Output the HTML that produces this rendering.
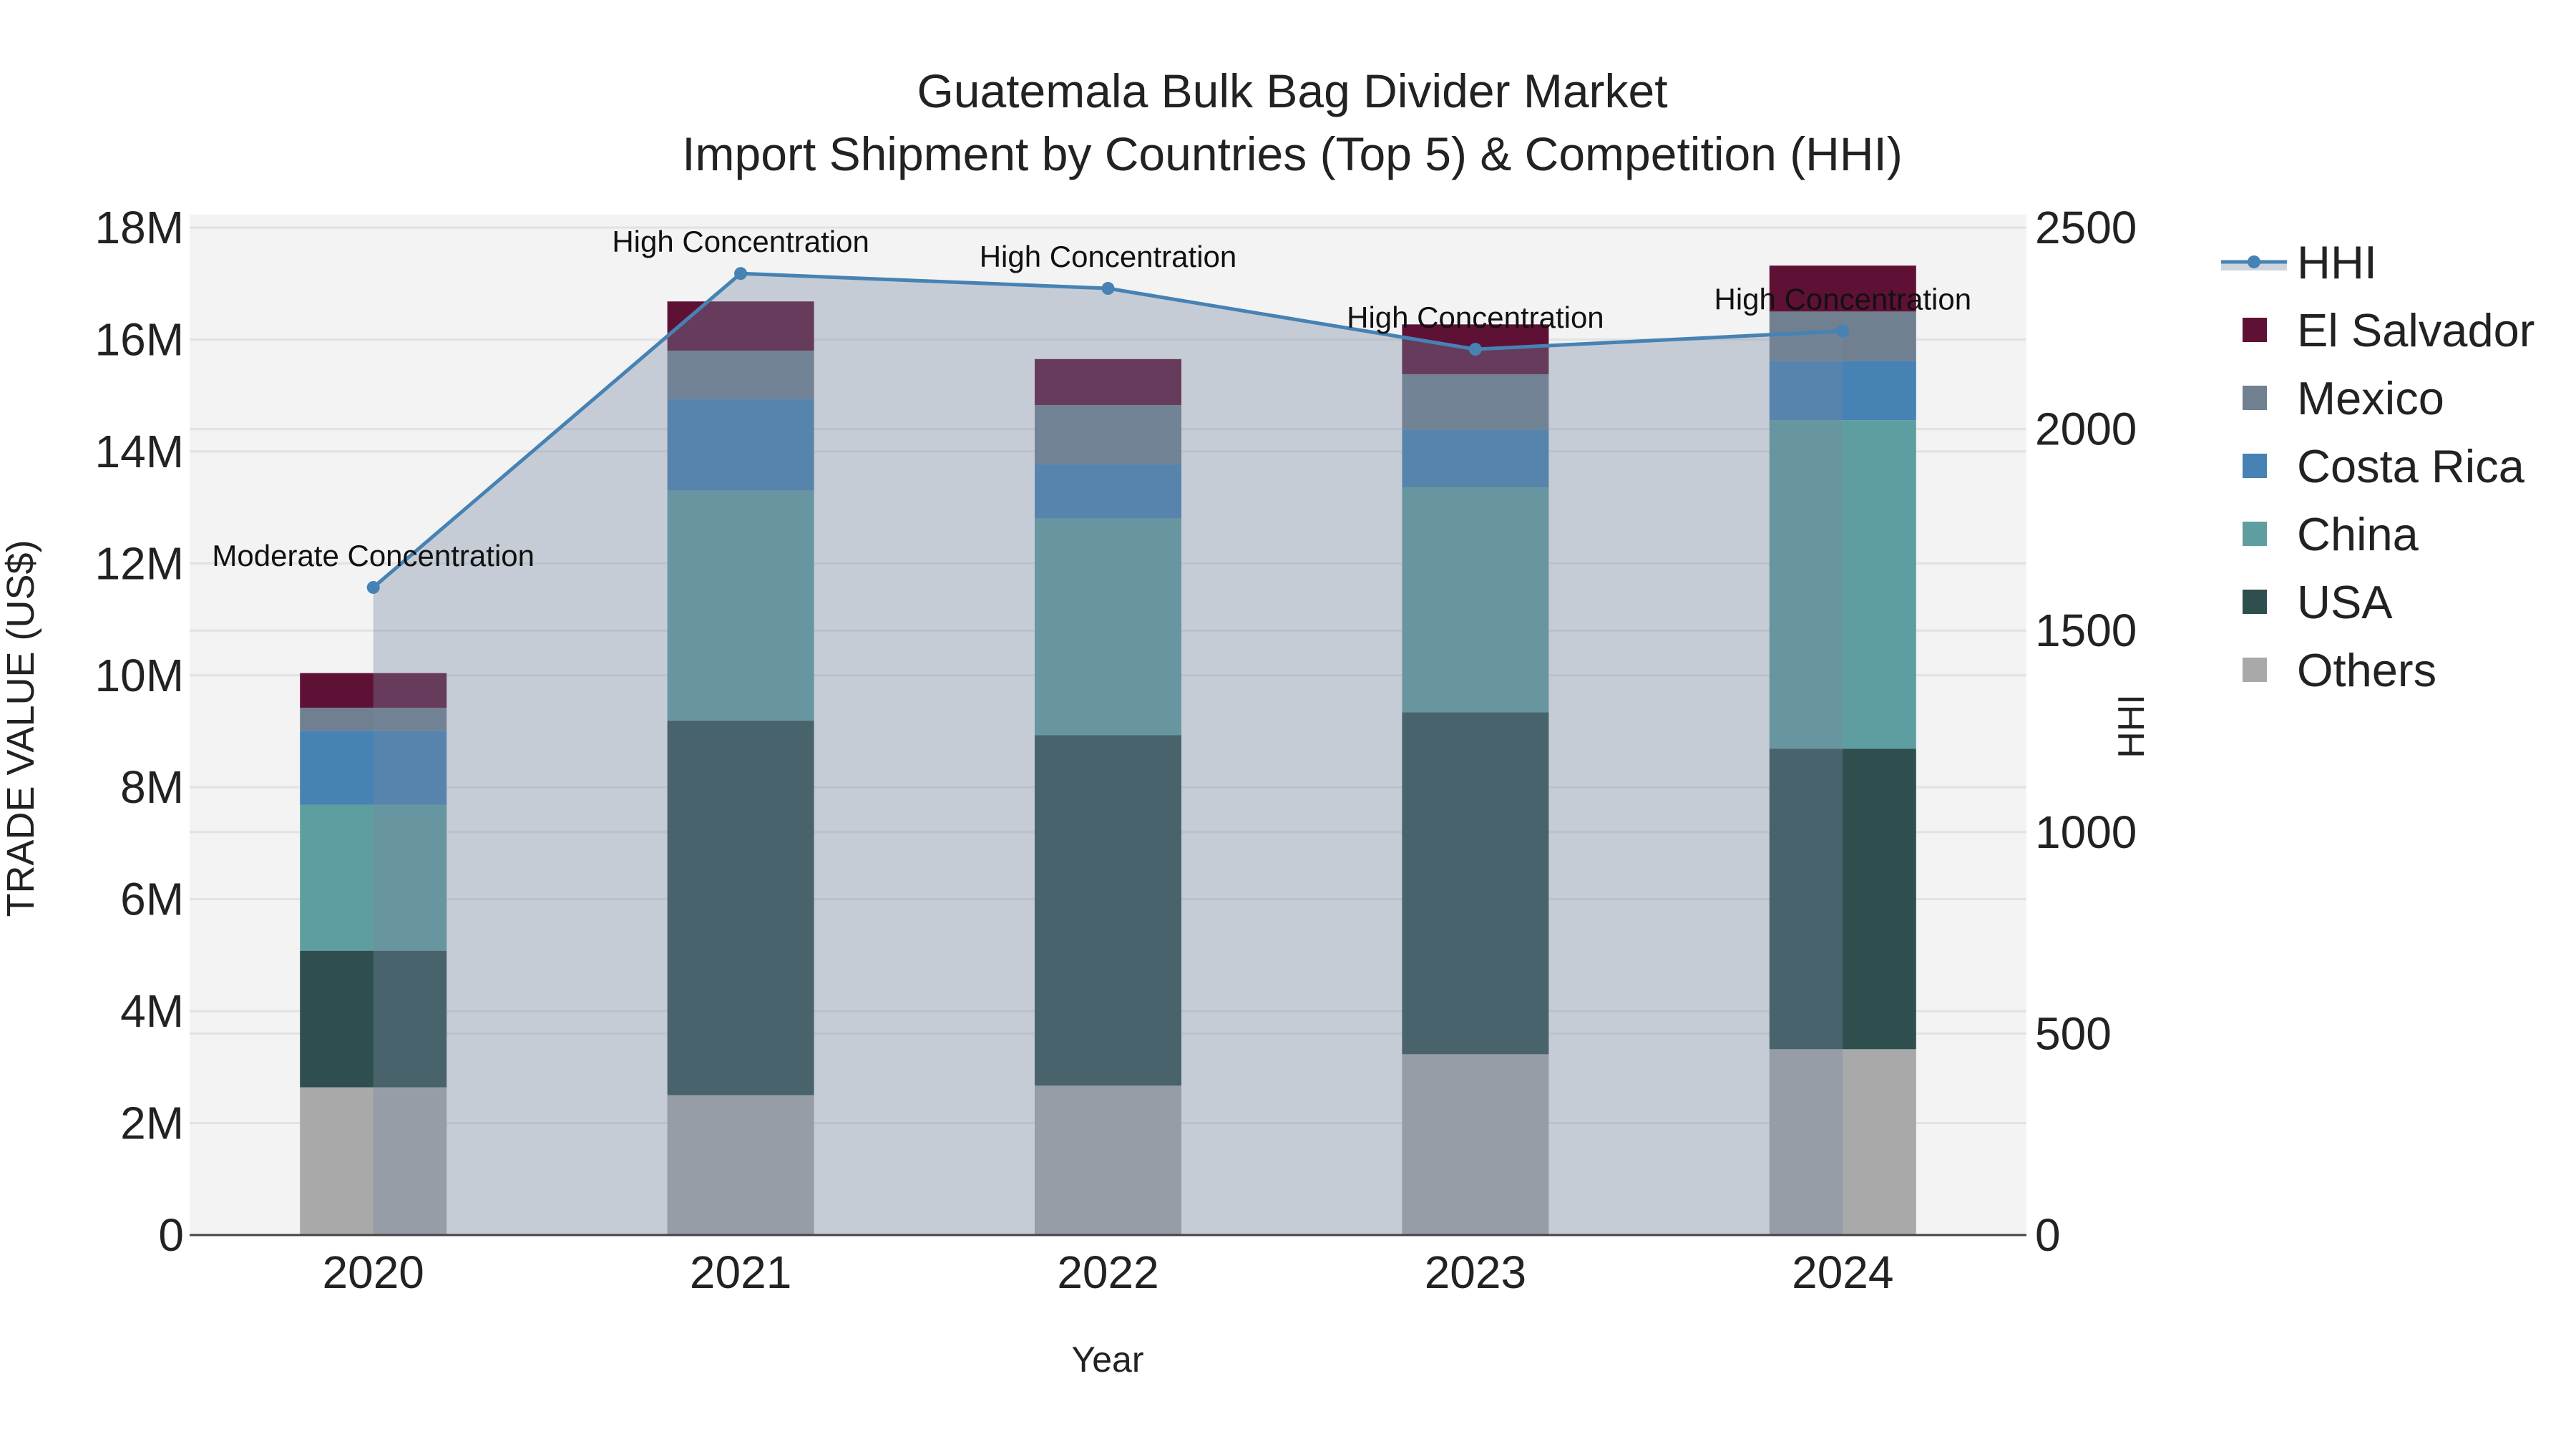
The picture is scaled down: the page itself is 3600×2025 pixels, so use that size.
<!DOCTYPE html>
<html><head><meta charset="utf-8"><style>
html,body{margin:0;padding:0;background:#fff;}
svg{display:block;font-family:"Liberation Sans",sans-serif;}
</style></head><body>
<svg id="chart" width="3600" height="2025" viewBox="0 0 3600 2025" xmlns="http://www.w3.org/2000/svg">
<text x="1806" y="150" text-anchor="middle" font-size="66" fill="#222">Guatemala Bulk Bag Divider Market</text>
<text x="1806" y="238" text-anchor="middle" font-size="66" fill="#222">Import Shipment by Countries (Top 5) &amp; Competition (HHI)</text>
<rect x="265" y="300" width="2567" height="1426" fill="#f3f3f3"/>
<g id="grid"></g><g id="bars"></g><g id="hhi"></g><g id="axes"></g><g id="legend"></g>
<text x="1548" y="1917" text-anchor="middle" font-size="50" fill="#222">Year</text>
<text transform="translate(47,1018) rotate(-90)" text-anchor="middle" font-size="54" fill="#222">TRADE VALUE (US$)</text>
<text transform="translate(2996,1015) rotate(-90)" text-anchor="middle" font-size="52" fill="#222">HHI</text>
</svg>
<script>
const years = ["2020","2021","2022","2023","2024"];
const seriesNames = ["Others","USA","China","Costa Rica","Mexico","El Salvador"];
const others = [2.64, 2.50, 2.67, 3.23, 3.32];
const usa = [2.44, 6.69, 6.26, 6.11, 5.37];
const china = [2.61, 4.11, 3.87, 4.02, 5.87];
const costaRica = [1.32, 1.64, 0.97, 1.03, 1.06];
const mexico = [0.41, 0.86, 1.06, 0.99, 0.88];
const elSalvador = [0.62, 0.88, 0.82, 0.89, 0.82];
const hhi = [1607, 2386, 2349, 2198, 2243];
const hhiLabels = ["Moderate Concentration","High Concentration","High Concentration","High Concentration","High Concentration"];
const yTicks = [0,2,4,6,8,10,12,14,16,18];
const yTickLabels = ["0","2M","4M","6M","8M","10M","12M","14M","16M","18M"];
const y2Ticks = [0,500,1000,1500,2000,2500];

const NS="http://www.w3.org/2000/svg";
const colors={"Others":"#a9a9a9","USA":"#2f4f4f","China":"#5f9ea0","Costa Rica":"#4682b4","Mexico":"#708090","El Salvador":"#5f1135"};
const seriesData=[others,usa,china,costaRica,mexico,elSalvador];
const PL=265,PR=2832,PT=300,PB=1726;
const yScale=v=>PB-v*(PB-318)/18;
const y2Scale=v=>PB-v*(PB-318)/2500;
const band=(PR-PL)/years.length;
const xScale=i=>PL+band*(i+0.5);
const barW=205;
function mk(tag,attrs,parent){const e=document.createElementNS(NS,tag);for(const k in attrs)e.setAttribute(k,attrs[k]);parent.appendChild(e);return e;}
const grid=document.getElementById('grid'),bars=document.getElementById('bars'),hg=document.getElementById('hhi'),axes=document.getElementById('axes'),leg=document.getElementById('legend');

yTicks.forEach((t,i)=>{
  const y=yScale(t);
  if(t>0){const g=mk('line',{x1:PL,x2:PR,y1:y,y2:y,stroke:"#e2e2e2","stroke-width":3},grid);
  
  }
  const tx=mk('text',{x:PL-8,y:y+22,"text-anchor":"end","font-size":64,fill:"#222"},axes);
  tx.textContent=yTickLabels[i];
  
  
});
y2Ticks.forEach(t=>{
  const y=y2Scale(t);
  if(t>0){const g=mk('line',{x1:PL,x2:PR,y1:y,y2:y,stroke:"#e2e2e2","stroke-width":3},grid);
  
  }
  const tx=mk('text',{x:PR+12,y:y+22,"text-anchor":"start","font-size":64,fill:"#222"},axes);
  tx.textContent=String(t);
  
  
});
years.forEach((yr,i)=>{
  let cum=0;
  seriesData.forEach((arr,s)=>{
    const v=arr[i];
    const y0=yScale(cum),y1=yScale(cum+v);
    const r=mk('rect',{x:xScale(i)-barW/2,y:y1,width:barW,height:y0-y1,fill:colors[seriesNames[s]]},bars);
    
    
    cum+=v;
  });
  const tx=mk('text',{x:xScale(i),y:1800,"text-anchor":"middle","font-size":64,fill:"#222"},axes);
  tx.textContent=yr;
  
  
});
let d="M"+xScale(0)+","+PB;
hhi.forEach((v,i)=>{d+=" L"+xScale(i)+","+y2Scale(v);});
d+=" L"+xScale(hhi.length-1)+","+PB+" Z";
const area=mk('path',{d:d,fill:"rgba(119,136,160,0.36)"},hg);


const pts=hhi.map((v,i)=>xScale(i)+","+y2Scale(v)).join(" ");
const line=mk('polyline',{points:pts,fill:"none",stroke:"#4682b4","stroke-width":5},hg);


hhi.forEach((v,i)=>{
  const c=mk('circle',{cx:xScale(i),cy:y2Scale(v),r:9,fill:"#4682b4"},hg);
  
  
  const t=mk('text',{x:xScale(i),y:y2Scale(v)-30,"text-anchor":"middle","font-size":42,fill:"#111"},hg);
  t.textContent=hhiLabels[i];
  
  
});
const ax=mk('line',{x1:PL,x2:PR,y1:PB,y2:PB,stroke:"#444","stroke-width":3},axes);


const legItems=["HHI","El Salvador","Mexico","Costa Rica","China","USA","Others"];
legItems.forEach((n,k)=>{
  const y=366+k*95;
  if(n==="HHI"){
    const b=mk('rect',{x:3104,y:y,width:92,height:12,fill:"rgba(119,136,160,0.36)"},leg);
    
    
    const l=mk('line',{x1:3104,x2:3196,y1:y,y2:y,stroke:"#4682b4","stroke-width":5},leg);
    
    
    const c=mk('circle',{cx:3150,cy:y,r:9,fill:"#4682b4"},leg);
    
    
  } else {
    const s=mk('rect',{x:3134,y:y-17,width:34,height:34,fill:colors[n]},leg);
    
    
  }
  const t=mk('text',{x:3210,y:y+23,"font-size":65,fill:"#222"},leg);
  t.textContent=n;
  
  
});
</script>
</body></html>
